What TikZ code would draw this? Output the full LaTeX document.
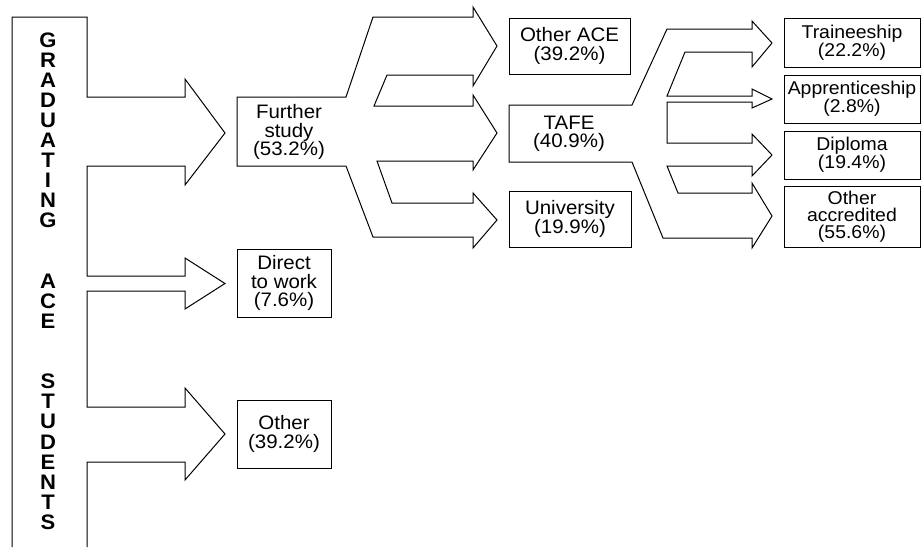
\documentclass[tikz,border=0pt]{standalone}
\usepackage{fontspec}
\setmainfont{Liberation Sans}[FakeStretch=1.05]
\tikzstyle{box} = [rectangle, draw, line width=1pt, align=center, inner sep=0pt, font=\fontsize{19.5}{18.5}\selectfont]
\tikzstyle{open} = [rectangle, align=center, inner sep=0pt, font=\fontsize{19.5}{18.5}\selectfont]
\tikzstyle{pathbox} = [box, minimum width=136pt, minimum height=48pt, font=\fontsize{18.5}{18}\selectfont]
\tikzset{flow/.style = {
    draw,
    line width=1pt,
    line join=miter,
  }
}

\begin{document}
\begin{tikzpicture}[x=1pt, y=-1pt]
            \useasboundingbox (0,0) rectangle (922,547);
            % vertical title
            \node[font=\fontsize{21}{20.1}\selectfont\bfseries, align=center, inner sep=0pt] (grad) at (48,281)
              {G\\R\\A\\D\\U\\A\\T\\I\\N\\G\\[40.2pt]A\\C\\E\\[40.2pt]S\\T\\U\\D\\E\\N\\T\\S};

            % first step
            \node[open] (further) at (289,132) {Further\\study\\(53.2\%)};
            \node[box, minimum width=94pt, minimum height=68pt] (work) at (284,283) {Direct\\to work\\(7.6\%)};
            \node[box, minimum width=94pt, minimum height=68pt] (other) at (284,434) {Other\\(39.2\%)};

            % further study
            \node[box, minimum width=121pt, minimum height=56pt] (ace) at (569.5,46) {Other ACE\\(39.2\%)};
            \node[open] (tafe) at (569,134) {TAFE\\(40.9\%)};
            \node[box, minimum width=122pt, minimum height=56pt] (uni) at (570,219) {University\\(19.9\%)};

            % tafe
            \node[pathbox, minimum height=49pt] (trainee) at (852,42.5) {Traineeship\\(22.2\%)};
            \node[pathbox] (appr) at (852,99) {Apprenticeship\\(2.8\%)};
            \node[pathbox] (dipl) at (852,155) {Diploma\\(19.4\%)};
            \node[pathbox, minimum height=61pt, font=\fontsize{18.5}{17}\selectfont] (accr) at (852,216.5) {Other\\accredited\\(55.6\%)};

            %arrows
            \draw[flow] (12,547) -- (12,17) -- (87,17) -- (87,97) -- (185,97) -- (185,79) -- (225,133)
              -- (185,185) -- (185,166) -- (87,166) -- (87,276) -- (185,276) -- (185,258) -- (225,283.5)
              -- (185,309) -- (185,291) -- (87,291) -- (87,407) -- (185,407) -- (185,388) -- (225,434)
              -- (185,480) -- (185,462) -- (87,462) -- (87,547);
            \draw[flow] (346,166) -- (237,166) -- (237,97) -- (346,97) -- (373,17) -- (473,17) -- (473,7)
              -- (497,46) -- (473,86) -- (473,75) -- (387,75) -- (374,106) -- (473,106) -- (473,95)
              -- (497,133) -- (473,170) -- (473,161) -- (377,161) -- (392,203) -- (473,203) -- (473,193)
              -- (497,220) -- (473,248) -- (473,237) -- (373,237) -- cycle;
            \draw[flow] (632,162) -- (509,162) -- (509,105) -- (632,105) -- (667,29) -- (752,29) -- (752,21)
              -- (772,43) -- (752,67) -- (752,52) -- (685,52) -- (667,96) -- (752,96) -- (752,89)
              -- (772,99) -- (752,108) -- (752,102) -- (667,102) -- (667,143) -- (752,143) -- (752,134)
              -- (772,155) -- (752,176) -- (752,166) -- (667,166) -- (678,193) -- (752,193) -- (752,183)
              -- (772,216) -- (752,248) -- (752,238) -- (663,238) -- cycle;

          \end{tikzpicture}
\end{document}
